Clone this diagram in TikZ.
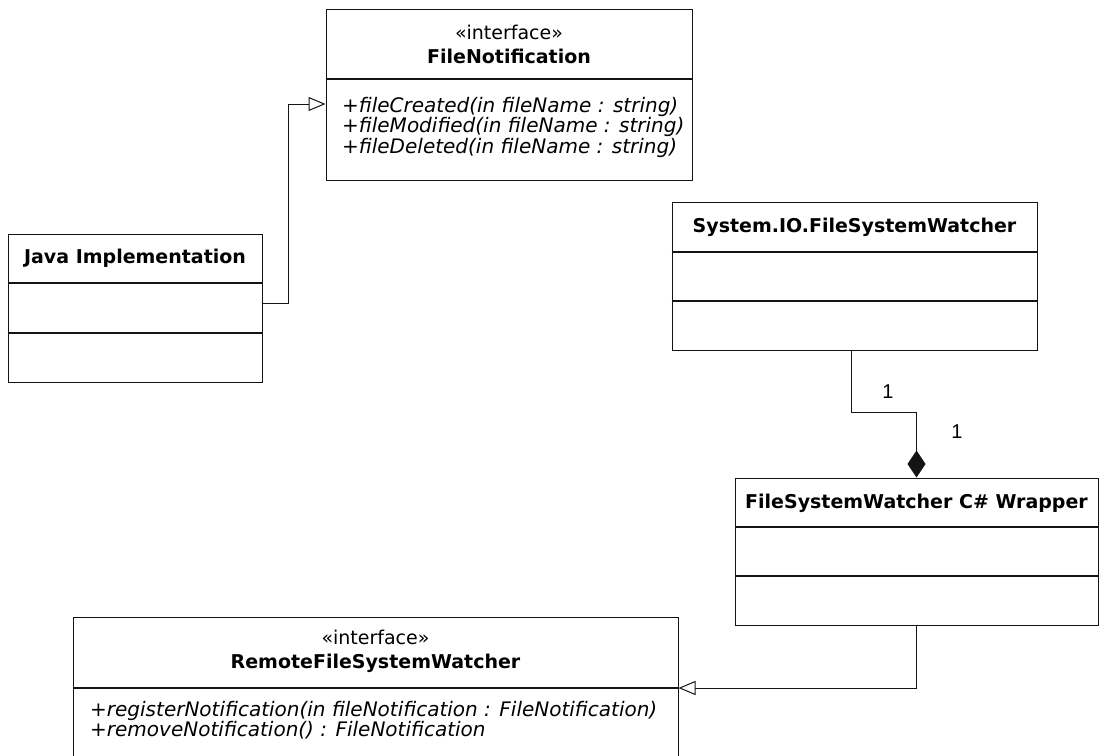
\documentclass[tikz,border=0pt]{standalone}
\usepackage{fontspec}
\setmainfont{DejaVu Sans}
\newfontfamily\multfont{Liberation Sans}
\usepackage{tikz}
\usetikzlibrary{
  arrows.meta,
  positioning,
  calc
}
\definecolor{umlline}{RGB}{20,20,20}
\tikzset{
  classbox/.style={
    rectangle, draw=umlline, line width=1pt, fill=white,
    inner sep=0pt
  },
  classtitle/.style={
    font=\fontsize{19}{22}\selectfont\bfseries, inner sep=0pt,
    align=center, text=black
  },
  ifacehead/.style={
    font=\fontsize{19}{24}\selectfont, inner sep=0pt,
    align=center, text=black
  },
  oplist/.style={
    font=\fontsize{20}{20.5}\selectfont\itshape, inner sep=0pt,
    align=left, anchor=west, text=black
  },
  divider/.style={line width=1.3pt, draw=umlline},
  realize/.style={-{Triangle[open,length=17pt,width=14pt,fill=white]},
    line width=1pt, draw=umlline},
  compose/.style={-{Diamond[length=27pt,width=18pt]},
    line width=1pt, draw=umlline},
  mult/.style={font=\multfont\fontsize{20}{22}\selectfont, inner sep=0pt}
}
\begin{document}
\begin{tikzpicture}[x=1pt,y=-1pt]
  \clip (0,0) rectangle (1102,755);
  \fill[white] (0,0) rectangle (1102,755);
  % Class boxes
  \node[classbox, minimum width=366pt, minimum height=171pt] (filenote) at (509,94.5) {};
  \node[classbox, minimum width=254pt, minimum height=148pt] (java) at (135,308) {};
  \node[classbox, minimum width=365pt, minimum height=148pt] (sysio) at (854.5,276) {};
  \node[classbox, minimum width=363pt, minimum height=147pt] (wrapper) at (916.5,551.5) {};
  \node[classbox, minimum width=605pt, minimum height=153pt] (remote) at (375.5,693.5) {};
  % Compartments
  \draw[divider] (filenote.west |- 0,79) -- (filenote.east |- 0,79);
  \foreach \yy in {283,333} {
    \draw[divider] (java.west |- 0,\yy) -- (java.east |- 0,\yy);
  }
  \foreach \yy in {252,301} {
    \draw[divider] (sysio.west |- 0,\yy) -- (sysio.east |- 0,\yy);
  }
  \foreach \yy in {527,576} {
    \draw[divider] (wrapper.west |- 0,\yy) -- (wrapper.east |- 0,\yy);
  }
  \draw[divider] (remote.west |- 0,688) -- (remote.east |- 0,688);
  % Names
  \node[ifacehead] (filenotehead) at (509,44)
    {«interface»\\\textbf{FileNotification}};
  \node[classtitle] (javatitle) at (135,258) {Java Implementation};
  \node[classtitle] (sysiotitle) at (854.5,227) {System.IO.FileSystemWatcher};
  \node[classtitle] (wrappertitle) at (916.5,503) {FileSystemWatcher C\# Wrapper};
  \node[ifacehead] (remotehead) at (375.5,651)
    {«interface»\\\textbf{RemoteFileSystemWatcher}};
  % Operations
  \node[oplist] (filenoteops) at (342,127)
    {+fileCreated(in fileName : string)\\
     +fileModified(in fileName : string)\\
     +fileDeleted(in fileName : string)};
  \node[oplist] (remoteops) at (90,720)
    {+registerNotification(in fileNotification : FileNotification)\\
     +removeNotification() : FileNotification};
  % Relations
  \draw[realize] ([yshift=5pt]java.east) -- ++(26,0) |- ([yshift=-9.5pt]filenote.west);
  \draw[compose] ([xshift=-3.5pt]sysio.south) -- ++(0,62) -| (wrapper.north);
  \draw[realize] (wrapper.south) |- ([yshift=5.5pt]remote.east);
  % Multiplicities
  \node[mult] (multsys) at (888,392) {1};
  \node[mult] (multwrap) at (957,432) {1};
\end{tikzpicture}
\end{document}
